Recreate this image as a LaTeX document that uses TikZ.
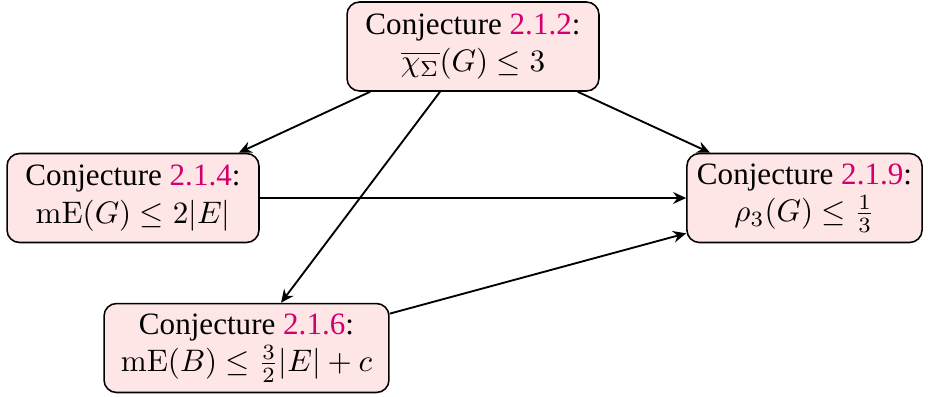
\documentclass[tikz,border=0pt]{standalone}
\usepackage[no-math]{fontspec}
\setmainfont{Liberation Serif}
\usetikzlibrary{arrows.meta}
\definecolor{refnum}{RGB}{210,0,110}
\definecolor{boxfill}{RGB}{255,230,230}
\tikzset{
  conj/.style={draw=black, fill=boxfill, rounded corners=4pt, line width=0.5pt,
    align=center, minimum height=28.6pt, inner sep=2pt, font=\fontsize{10}{12}\selectfont},
  edge/.style={draw=black, line width=0.6pt, -{Stealth[length=4.2pt,width=3.8pt,inset=1.4pt]}}
}
\begin{document}
\begin{tikzpicture}[x=0.3215pt, y=-0.3215pt]
\useasboundingbox (0,0) rectangle (928,396);
\node[conj, minimum width=81pt] (top) at (473,46.5)
  {Conjecture \textcolor{refnum}{2.1.2}:\\ $\overline{\chi_\Sigma}(G)\leq 3$};
\node[conj, minimum width=81pt] (left) at (133,198)
  {Conjecture \textcolor{refnum}{2.1.4}:\\ $\mathrm{mE}(G)\leq 2|E|$};
\node[conj, minimum width=75.6pt] (right) at (804.5,198)
  {Conjecture \textcolor{refnum}{2.1.9}:\\ $\rho_3(G)\leq \frac{1}{3}$};
\node[conj, minimum width=91.6pt] (bottom) at (246.5,348)
  {Conjecture \textcolor{refnum}{2.1.6}:\\ $\mathrm{mE}(B)\leq \frac{3}{2}|E|+c$};
\draw[edge] ([xshift=7.7pt]top.south west) -- ([xshift=-6.75pt]left.north east);
\draw[edge] ([xshift=-7.1pt]top.south east) -- ([xshift=7.7pt]right.north west);
\draw[edge] ([xshift=-10.6pt]top.south) -- ([xshift=11.1pt]bottom.north);
\draw[edge] (left.east) -- (right.west);
\draw[edge] ([yshift=-3.5pt]bottom.north east) -- ([yshift=3.2pt]right.south west);
\end{tikzpicture}
\end{document}
